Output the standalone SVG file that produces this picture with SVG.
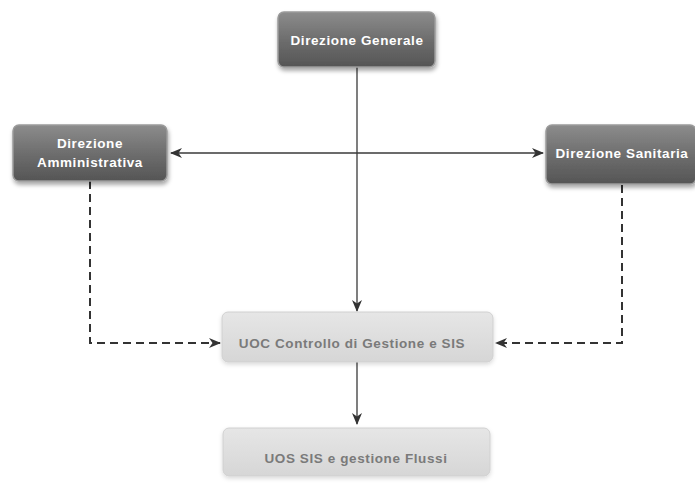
<svg xmlns="http://www.w3.org/2000/svg" width="695" height="486" viewBox="0 0 695 486">
  <defs>
    <linearGradient id="darkFill" x1="0" y1="0" x2="0" y2="1">
      <stop offset="0" stop-color="#8c8c8c"/>
      <stop offset="0.5" stop-color="#6e6e6e"/>
      <stop offset="1" stop-color="#555"/>
    </linearGradient>
    <linearGradient id="lightFill" x1="0" y1="0" x2="0" y2="1">
      <stop offset="0" stop-color="#e6e6e6"/>
      <stop offset="1" stop-color="#d6d6d6"/>
    </linearGradient>
    <filter id="shadow" x="-10%" y="-20%" width="120%" height="150%">
      <feDropShadow dx="1" dy="3" stdDeviation="2" flood-color="#000" flood-opacity="0.35"/>
    </filter>
    <filter id="soft" x="-10%" y="-20%" width="120%" height="150%">
      <feDropShadow dx="0" dy="2" stdDeviation="2" flood-color="#000" flood-opacity="0.15"/>
    </filter>
    <marker id="arrow" viewBox="0 0 12 10" refX="11" refY="5" markerWidth="12" markerHeight="10" markerUnits="userSpaceOnUse" orient="auto-start-reverse">
      <path d="M0,0 L12,5 L0,10 L3.5,5 z" fill="#333"/>
    </marker>
  </defs>
  <style>
    .dark { fill: url(#darkFill); stroke: #9a9a9a; stroke-width: 1.5; filter: url(#shadow); }
    .light { fill: url(#lightFill); stroke: #d0d0d0; stroke-width: 1; filter: url(#soft); }
    .tdark { font-family: "Liberation Sans", Arial, sans-serif; font-weight: bold; font-size: 13.5px; fill: #fff; text-anchor: middle; letter-spacing: 0.6px; }
    .tlight { font-family: "Liberation Sans", Arial, sans-serif; font-weight: bold; font-size: 13.5px; fill: #7a7a7a; text-anchor: middle; letter-spacing: 0.6px; }
    .solid { fill: none; stroke: #3a3a3a; stroke-width: 1.3; }
    .dashed { fill: none; stroke: #333; stroke-width: 2; stroke-dasharray: 8 5; }
  </style>

  <g id="connectors">
    <path class="solid" d="M357,67 V311" marker-end="url(#arrow)"/>
    <path class="solid" d="M171,153 H543" marker-start="url(#arrow)" marker-end="url(#arrow)"/>
    <path class="dashed" d="M90,181 V343 H220" marker-end="url(#arrow)"/>
    <path class="dashed" d="M622,185 V343 H496" marker-end="url(#arrow)"/>
    <path class="solid" d="M357,362 V424" marker-end="url(#arrow)"/>
  </g>

  <g id="direzione-generale">
    <rect class="dark" x="278" y="12" width="157" height="55" rx="6"/>
    <text class="tdark" x="357" y="45">Direzione Generale</text>
  </g>

  <g id="direzione-amministrativa">
    <rect class="dark" x="13" y="125" width="154" height="56" rx="6"/>
    <text class="tdark" x="90" y="148">Direzione</text>
    <text class="tdark" x="90" y="167">Amministrativa</text>
  </g>

  <g id="direzione-sanitaria">
    <rect class="dark" x="546" y="125" width="150" height="59" rx="6"/>
    <text class="tdark" x="622" y="158">Direzione Sanitaria</text>
  </g>

  <g id="uoc-controllo">
    <rect class="light" x="222" y="312" width="271" height="50" rx="6"/>
    <text class="tlight" x="352" y="348">UOC Controllo di Gestione e SIS</text>
  </g>

  <g id="uos-sis">
    <rect class="light" x="223" y="428" width="267" height="48" rx="6"/>
    <text class="tlight" x="356" y="463">UOS SIS e gestione Flussi</text>
  </g>
</svg>
